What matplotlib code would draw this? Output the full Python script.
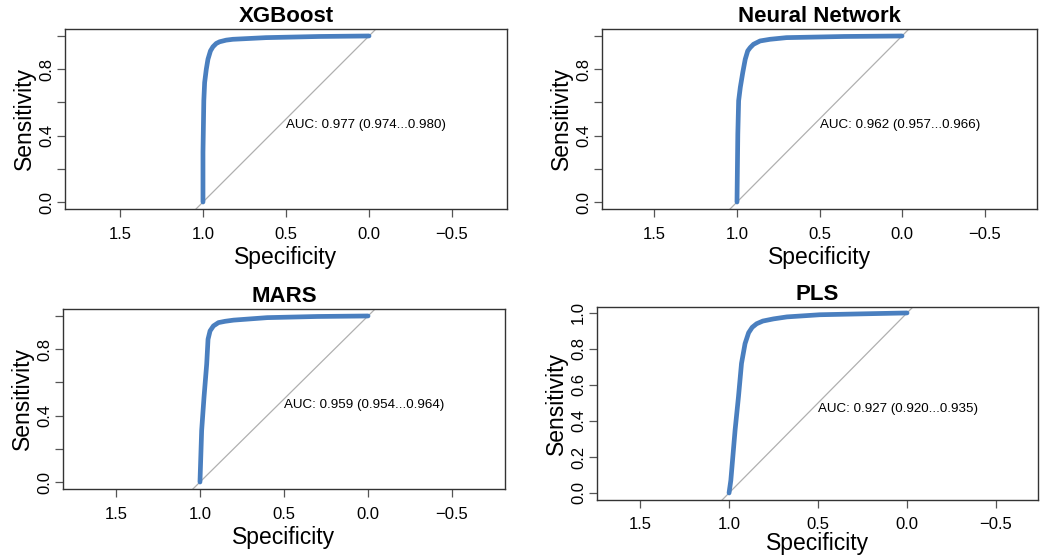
import numpy as np
import matplotlib.pyplot as plt

plt.rcParams['font.family'] = ['Liberation Sans', 'DejaVu Sans']

# ROC curves: specificity (x) and sensitivity (y)
models = ["XGBoost", "Neural Network", "MARS", "PLS"]

xgb_spec = [1.0, 1.0, 0.995, 0.99, 0.98, 0.97, 0.955, 0.94, 0.92, 0.90, 0.86, 0.82, 0.62, 0.30, 0.0]
xgb_sens = [0.0, 0.30, 0.61, 0.72, 0.80, 0.86, 0.91, 0.935, 0.955, 0.965, 0.975, 0.98, 0.99, 0.997, 1.0]

nn_spec = [1.0, 0.995, 0.99, 0.98, 0.965, 0.95, 0.935, 0.92, 0.90, 0.86, 0.80, 0.70, 0.35, 0.0]
nn_sens = [0.0, 0.41, 0.61, 0.69, 0.78, 0.86, 0.91, 0.93, 0.95, 0.97, 0.98, 0.99, 0.997, 1.0]

mars_spec = [1.0, 0.99, 0.976, 0.96, 0.952, 0.94, 0.92, 0.89, 0.85, 0.80, 0.60, 0.30, 0.0]
mars_sens = [0.0, 0.31, 0.51, 0.71, 0.86, 0.91, 0.94, 0.96, 0.968, 0.975, 0.99, 0.997, 1.0]

pls_spec = [1.0, 0.99, 0.966, 0.947, 0.93, 0.91, 0.89, 0.87, 0.845, 0.81, 0.75, 0.675, 0.49, 0.25, 0.0]
pls_sens = [0.0, 0.07, 0.35, 0.535, 0.72, 0.83, 0.89, 0.92, 0.94, 0.955, 0.967, 0.978, 0.99, 0.995, 1.0]

auc_labels = ["AUC: 0.977 (0.974...0.980)",
              "AUC: 0.962 (0.957...0.966)",
              "AUC: 0.959 (0.954...0.964)",
              "AUC: 0.927 (0.920...0.935)"]

specs = [xgb_spec, nn_spec, mars_spec, pls_spec]
senss = [xgb_sens, nn_sens, mars_sens, pls_sens]

# axes boxes in pixels: left, right, top, bottom
W, H = 1049, 560
boxes = [(65, 507, 29, 209), (602, 1037, 29, 209),
         (63, 505, 309, 489), (597, 1038, 307, 500)]
xlims = [(1.831, -0.831), (1.818, -0.818), (1.815, -0.815), (1.742, -0.736)]
ylims = [(-0.042, 1.042), (-0.042, 1.042), (-0.042, 1.042), (-0.039, 1.033)]

fig = plt.figure(figsize=(W / 100, H / 100), dpi=100)

for i in range(4):
    l, r, t, b = boxes[i]
    ax = fig.add_axes([l / W, 1 - b / H, (r - l) / W, (b - t) / H])
    ax.set_xlim(*xlims[i])
    ax.set_ylim(*ylims[i])

    # chance line
    ax.plot([2, -1], [-1, 2], color='#b0b0b0', lw=0.9, zorder=1)
    ax.plot(specs[i], senss[i], color='#4a7fbf', lw=3.4,
            solid_capstyle='round', solid_joinstyle='round', zorder=2)

    ax.text(0.5, 0.5, auc_labels[i], ha='left', va='top', fontsize=9.6)

    ax.set_title(models[i], fontsize=16, fontweight='bold', pad=5)
    ax.set_xlabel("Specificity", fontsize=16.5, labelpad=0 if i == 3 else 3)
    ax.set_ylabel("Sensitivity", fontsize=16.5, labelpad=2)

    ax.set_xticks([1.5, 1.0, 0.5, 0.0, -0.5])
    ax.set_xticklabels(["1.5", "1.0", "0.5", "0.0", "\u22120.5"])
    yt = [0.0, 0.2, 0.4, 0.6, 0.8, 1.0]
    ax.set_yticks(yt)
    if i == 3:
        ax.set_yticklabels(["0.0", "0.2", "0.4", "0.6", "0.8", "1.0"])
    else:
        ax.set_yticklabels(["0.0", "", "0.4", "", "0.8", ""])
    for lab in ax.get_yticklabels():
        lab.set_rotation(90)
        lab.set_va('center')
    ax.tick_params(axis='both', direction='out', length=6, width=0.9,
                   color='#555555', labelsize=12)
    ax.tick_params(axis='x', pad=6 if i == 3 else 7)
    ax.tick_params(axis='y', pad=2)
    for s in ax.spines.values():
        s.set_color('#333333')
        s.set_linewidth(1.0)

fig.savefig("out.png", dpi=100)
